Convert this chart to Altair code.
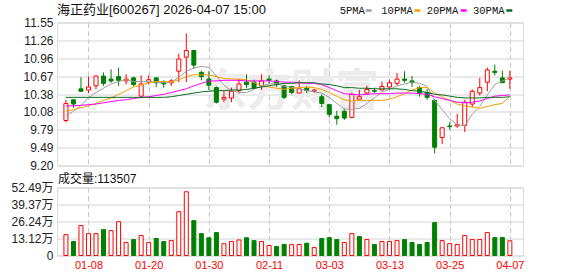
import altair as alt
import pandas as pd

dates = ["01-05","01-06","01-07","01-08","01-09","01-12","01-13","01-14","01-15","01-16",
         "01-19","01-20","01-21","01-22","01-23","01-26","01-27","01-28","01-29","01-30",
         "02-02","02-03","02-04","02-05","02-06","02-09","02-10","02-11","02-12","02-13",
         "02-24","02-25","02-26","02-27","03-02","03-03","03-04","03-05","03-06","03-09",
         "03-10","03-11","03-12","03-13","03-16","03-17","03-18","03-19","03-20","03-23",
         "03-24","03-25","03-26","03-27","03-30","03-31","04-01","04-02","04-03","04-07"]
opens = [9.94,10.28,10.46,10.44,10.51,10.67,10.62,10.66,10.59,10.64,
         10.34,10.57,10.64,10.57,10.56,10.75,10.98,11.09,10.73,10.62,
         10.48,10.29,10.31,10.43,10.57,10.57,10.51,10.62,10.59,10.51,
         10.50,10.39,10.47,10.42,10.33,10.20,10.01,10.09,9.99,10.29,
         10.39,10.43,10.44,10.49,10.55,10.62,10.59,10.48,10.40,10.27,
         9.66,9.85,9.85,9.86,10.21,10.39,10.57,10.75,10.64,10.62]
highs = [10.28,10.28,10.65,10.66,10.68,10.73,10.78,10.81,10.70,10.66,
         10.68,10.68,10.65,10.60,10.62,11.04,11.37,11.09,10.76,10.75,
         10.50,10.42,10.48,10.62,10.70,10.61,10.70,10.68,10.61,10.53,
         10.51,10.60,10.51,10.46,10.37,10.20,10.10,10.13,10.40,10.44,
         10.51,10.48,10.58,10.61,10.72,10.75,10.67,10.51,10.46,10.29,
         9.82,9.91,10.05,10.28,10.45,10.64,10.81,10.86,10.76,10.76]
lows = [9.91,10.15,10.41,10.39,10.45,10.51,10.56,10.51,10.53,10.50,
        10.31,10.53,10.49,10.48,10.51,10.57,10.57,10.79,10.60,10.44,
        10.22,10.24,10.24,10.38,10.47,10.46,10.44,10.55,10.49,10.29,
        10.37,10.39,10.39,10.39,10.16,9.99,9.87,9.95,9.99,10.29,
        10.37,10.39,10.44,10.46,10.51,10.56,10.49,10.33,10.28,9.40,
        9.55,9.79,9.82,9.75,10.16,10.35,10.42,10.68,10.56,10.46]
closes = [10.22,10.21,10.42,10.49,10.67,10.55,10.59,10.60,10.62,10.53,
          10.54,10.61,10.56,10.54,10.59,10.95,11.09,10.85,10.66,10.52,
          10.24,10.32,10.42,10.54,10.53,10.47,10.59,10.60,10.53,10.32,
          10.40,10.46,10.43,10.44,10.22,10.04,9.97,9.98,10.37,10.33,
          10.45,10.42,10.50,10.56,10.62,10.60,10.56,10.39,10.32,9.50,
          9.82,9.84,9.87,10.24,10.42,10.48,10.77,10.73,10.56,10.64]
volumes_wan = [16.1,10.8,23.1,16.9,16.9,20.0,19.2,26.1,10.0,12.3,
               15.4,10.0,13.1,10.8,11.5,33.8,49.2,26.9,16.9,13.7,
               17.7,9.1,10.8,12.0,13.7,11.5,10.8,7.7,6.9,8.6,
               8.4,8.5,9.5,6.1,13.1,13.8,12.3,10.0,16.9,14.6,
               12.3,8.5,10.8,10.8,11.5,12.3,10.0,8.5,10.0,25.4,
               11.5,9.2,8.5,15.4,12.3,12.3,17.7,13.8,13.8,11.35]
ma5 = [10.02,10.09,10.19,10.31,10.40,10.47,10.54,10.58,10.61,10.58,
       10.58,10.58,10.57,10.56,10.57,10.65,10.75,10.80,10.83,10.81,
       10.67,10.52,10.43,10.40,10.40,10.45,10.51,10.54,10.55,10.50,
       10.49,10.46,10.43,10.41,10.39,10.32,10.22,10.13,10.12,10.14,
       10.22,10.31,10.41,10.45,10.51,10.54,10.57,10.55,10.50,10.27,
       10.12,9.97,9.87,9.85,10.04,10.17,10.36,10.53,10.59,10.64]
ma10 = [10.09,10.12,10.15,10.18,10.22,10.27,10.31,10.37,10.43,10.49,
        10.52,10.56,10.58,10.58,10.57,10.61,10.66,10.69,10.69,10.69,
        10.66,10.63,10.62,10.62,10.61,10.56,10.51,10.49,10.47,10.45,
        10.47,10.48,10.49,10.48,10.45,10.40,10.34,10.28,10.26,10.27,
        10.27,10.27,10.27,10.29,10.33,10.38,10.44,10.48,10.48,10.39,
        10.33,10.27,10.21,10.18,10.16,10.14,10.17,10.20,10.22,10.34]
ma20 = [10.18,10.18,10.19,10.20,10.21,10.23,10.25,10.27,10.28,10.30,
        10.32,10.33,10.35,10.37,10.40,10.43,10.46,10.51,10.55,10.59,
        10.59,10.60,10.60,10.60,10.59,10.59,10.59,10.59,10.58,10.57,
        10.57,10.56,10.55,10.55,10.53,10.48,10.43,10.38,10.37,10.36,
        10.37,10.38,10.38,10.38,10.39,10.39,10.39,10.38,10.37,10.33,
        10.30,10.27,10.24,10.23,10.24,10.26,10.30,10.34,10.35,10.36]
ma30 = [10.32,10.32,10.32,10.32,10.32,10.32,10.32,10.32,10.32,10.32,
        10.32,10.32,10.32,10.32,10.33,10.35,10.37,10.39,10.41,10.42,
        10.43,10.43,10.44,10.44,10.45,10.47,10.49,10.51,10.53,10.55,
        10.55,10.56,10.56,10.56,10.54,10.53,10.51,10.48,10.48,10.47,
        10.47,10.46,10.46,10.46,10.46,10.45,10.43,10.42,10.40,10.37,
        10.36,10.34,10.32,10.31,10.31,10.31,10.32,10.32,10.32,10.33]
price_ticks = [9.2, 9.49375, 9.7875, 10.08125, 10.375, 10.66875, 10.9625, 11.25625, 11.55]
vol_ticks = [0, 13.1225, 26.244, 39.3675, 52.49]
date_ticks = [3, 11, 19, 27, 35, 43, 51, 59]
ma_names = ["5PMA", "10PMA", "20PMA", "30PMA"]
ma_colors = ["#a0a0a0", "#f5a000", "#ff00ff", "#0b6b22"]
title_text = "海正药业[600267] 2026-04-07 15:00"
vol_text = "成交量:113507"
watermark = "东方财富"

UP, DOWN = "#ff0000", "#008000"
SANS = "Liberation Sans, Noto Sans CJK SC"

n = len(dates)
df = pd.DataFrame({"idx": list(range(n)), "date": dates, "open": opens, "high": highs,
                   "low": lows, "close": closes, "vol": volumes_wan})
df["dir"] = ["up" if c >= o else "down" for o, c in zip(opens, closes)]
prev = [opens[0]] + closes[:-1]
df["vdir"] = ["up" if c >= p else "down" for p, c in zip(prev, closes)]

ma_series = {"5PMA": ma5, "10PMA": ma10, "20PMA": ma20, "30PMA": ma30}

xscale = alt.Scale(domain=[-0.52, 60.08], nice=False, zero=False)
label_expr = "[" + ",".join("'%s'" % d for d in dates) + "][datum.value]"
x_top = alt.X("idx:Q", scale=xscale, title=None,
              axis=alt.Axis(values=date_ticks, labels=False, ticks=False, domain=False,
                            grid=True, gridDash=[5, 3], gridColor="#c8c8c8"))
x_bot = alt.X("idx:Q", scale=xscale, title=None,
              axis=alt.Axis(values=date_ticks, labelExpr=label_expr, ticks=False, domain=False,
                            grid=True, gridDash=[5, 3], gridColor="#c8c8c8",
                            labelColor="#ff0000", labelFont=SANS, labelFontSize=11,
                            labelPadding=4))
pscale = alt.Scale(domain=[9.2, 11.55], nice=False, zero=False)
yaxis_p = alt.Axis(values=price_ticks, format=".2f", ticks=False, domain=False, grid=True,
                   gridColor="#d4d4d4", labelPadding=4, labelFont=SANS, labelFontSize=12,
                   labelColor="#222222")
dir_color = alt.Scale(domain=["up", "down"], range=[UP, DOWN])
dir_fill = alt.Scale(domain=["up", "down"], range=["#ffffff", DOWN])

one = pd.DataFrame({"a": [0]})

wm = alt.Chart(one).mark_text(text=watermark, font="Noto Sans CJK SC", fontSize=44,
                              fontWeight="bold", color="#ececec").encode(
    x=alt.value(234), y=alt.value(70))

wicks = alt.Chart(df).mark_rule(strokeWidth=1).encode(
    x=x_top,
    y=alt.Y("low:Q", scale=pscale, axis=yaxis_p, title=None),
    y2="high:Q",
    stroke=alt.Stroke("dir:N", scale=dir_color, legend=None))

bodies = alt.Chart(df).mark_bar(size=4, strokeWidth=1).encode(
    x=x_top,
    y=alt.Y("open:Q", scale=pscale, axis=yaxis_p, title=None),
    y2="close:Q",
    fill=alt.Fill("dir:N", scale=dir_fill, legend=None),
    stroke=alt.Stroke("dir:N", scale=dir_color, legend=None))

line_layers = []
for name, col in zip(ma_names, ma_colors):
    mdf = pd.DataFrame({"idx": list(range(n)), "value": ma_series[name]})
    line_layers.append(alt.Chart(mdf).mark_line(strokeWidth=1, color=col).encode(
        x=x_top,
        y=alt.Y("value:Q", scale=pscale, axis=yaxis_p, title=None)))

title = alt.Chart(one).mark_text(text=title_text, font=SANS, fontSize=13, align="left",
                                 baseline="middle", color="#111111").encode(
    x=alt.value(0), y=alt.value(-13))

legend_layers = []
text_x = [282.7, 324.3, 369.7, 416.0]
dash_x = [308.7, 357.3, 403.7, 449.3]
for name, col, tx, dx in zip(ma_names, ma_colors, text_x, dash_x):
    legend_layers.append(alt.Chart(one).mark_text(text=name, font="Liberation Mono", fontSize=10.5,
                                                  align="left", baseline="middle",
                                                  color="#111111").encode(
        x=alt.value(tx), y=alt.value(-12)))
    legend_layers.append(alt.Chart(one).mark_rule(strokeWidth=2.5, color=col).encode(
        x=alt.value(dx), x2=alt.value(dx + 6), y=alt.value(-12)))

top = alt.layer(wm, wicks, bodies, *line_layers, title, *legend_layers).properties(
    width=466, height=143)

vscale = alt.Scale(domain=[0, 52.49], nice=False, zero=True)
yaxis_v = alt.Axis(values=vol_ticks, ticks=False, domain=False, grid=True, gridColor="#d4d4d4",
                   labelPadding=4, labelFont=SANS, labelFontSize=12, labelColor="#222222",
                   labelExpr="datum.value == 0 ? '0' : format(datum.value, '.2f') + '万'")
volbars = alt.Chart(df).mark_bar(size=4, strokeWidth=1).encode(
    x=x_bot,
    y=alt.Y("vol:Q", scale=vscale, axis=yaxis_v, title=None),
    fill=alt.Fill("vdir:N", scale=dir_fill, legend=None),
    stroke=alt.Stroke("vdir:N", scale=dir_color, legend=None))
voltitle = alt.Chart(one).mark_text(text=vol_text, font=SANS, fontSize=12, align="left",
                                    baseline="middle", color="#111111").encode(
    x=alt.value(1), y=alt.value(-9))
bottom = alt.layer(volbars, voltitle).properties(width=466, height=68)

chart = alt.vconcat(top, bottom, spacing=22, bounds="flush").properties(
    padding={"left": 10, "top": 2.5, "right": 0, "bottom": 0}
).configure_view(stroke="#999999", strokeWidth=1).configure(background="#ffffff")

chart.save("out.html", embed_options={"renderer": "svg", "actions": False})
